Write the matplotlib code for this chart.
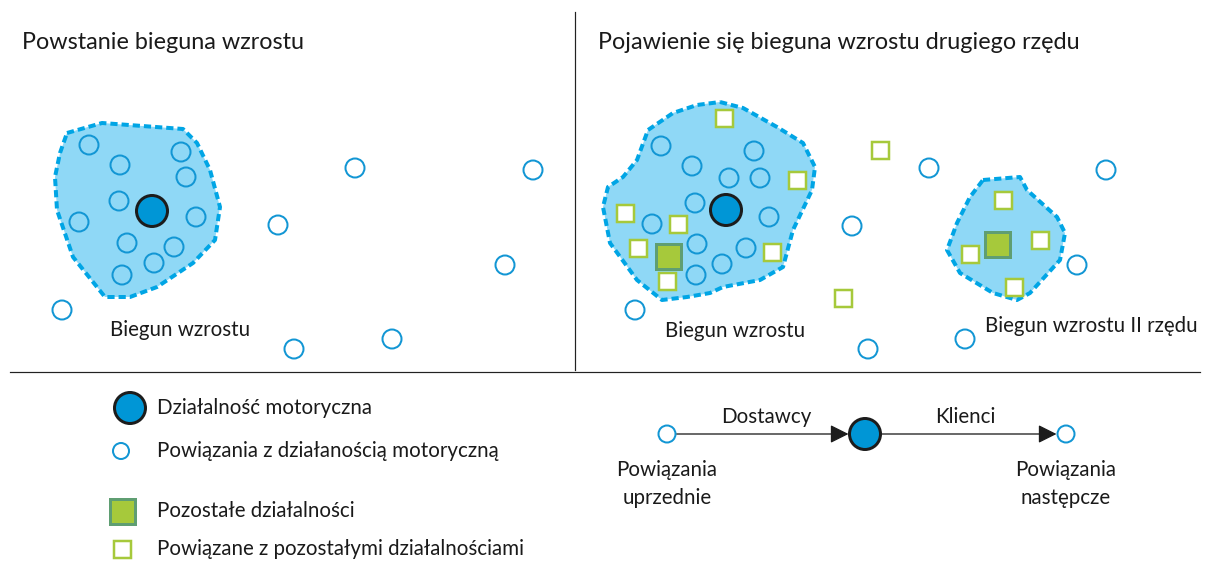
import matplotlib
matplotlib.use("Agg")
import matplotlib.pyplot as plt
from matplotlib.patches import Circle, Rectangle, Polygon, FancyArrowPatch

plt.rcParams['font.family'] = ['Lato', 'DejaVu Sans']

# ---- data (pixel-space diagram positions) ----
titles = ["Powstanie bieguna wzrostu", "Pojawienie się bieguna wzrostu drugiego rzędu"]
title_pos = [(22, 42), (598, 42)]

blob1 = [(67,133),(102,123),(183,129),(197,143),(210,170),(220,207),(215,240),(193,263),
         (157,287),(130,297),(105,297),(73,257),(57,210),(55,177),(60,153)]
blob2 = [(720,102),(743,108),(777,127),(803,143),(815,167),(812,190),(793,230),(783,267),
         (760,280),(723,287),(710,293),(687,297),(662,300),(637,280),(610,243),(603,207),
         (608,187),(623,177),(637,160),(648,130),(673,113),(697,105)]
blob3 = [(983,180),(1020,177),(1027,190),(1057,217),(1065,233),(1060,260),(1030,293),
         (1017,300),(993,293),(960,273),(947,250),(957,223),(970,197)]

motor_main = [(152,211),(726,210)]
linked_circles = [(89,145),(120,165),(181,152),(186,177),(119,201),(79,222),(196,217),
                  (127,243),(174,247),(154,263),(122,275),
                  (355,168),(533,170),(278,225),(505,265),(62,310),(294,349),(392,339),
                  (661,146),(692,166),(754,151),(729,178),(760,178),(652,224),(695,203),
                  (769,217),(697,244),(746,248),(722,264),(696,275),
                  (929,168),(1106,170),(852,226),(1077,265),(635,310),(868,349),(965,339)]
other_main = [(668,256),(997,244)]
other_linked = [(724,118),(797,180),(625,213),(678,224),(638,248),(772,252),(667,281),
                (880,150),(843,298),(1003,200),(1040,240),(970,254),(1014,287)]

blob_labels = ["Biegun wzrostu", "Biegun wzrostu", "Biegun wzrostu II rzędu"]
blob_label_pos = [(180,330),(735,331),(1091,326)]

legend_labels = ["Działalność motoryczna", "Powiązania z działanością motoryczną",
                 "Pozostałe działalności", "Powiązane z pozostałymi działalnościami"]
legend_y = [408, 451, 511, 549]

flow_nodes = [(667,434),(865,434),(1066,434)]
flow_edge_labels = ["Dostawcy", "Klienci"]
flow_node_labels = ["Powiązania\nuprzednie", "Powiązania\nnastępcze"]

# ---- styles ----
BLUE = "#1296d4"
FILL_BLUE = "#0096d6"
BLOB_FILL = "#8fd8f6"
BLOB_EDGE = "#00a5e5"
LIME = "#a6c93b"
TEAL = "#5f9e72"
TXT = "#1a1a1a"
PX = 0.72
FS = 14.8
FS_T = 16.8

fig = plt.figure(figsize=(12.05, 5.61), dpi=100)
ax = fig.add_axes([0, 0, 1, 1])
ax.set_xlim(0, 1205)
ax.set_ylim(561, 0)
ax.set_aspect('equal')
ax.axis('off')

def small_circle(x, y, r=9.5):
    ax.add_patch(Circle((x, y), r, facecolor='none', edgecolor=BLUE, lw=2*PX, zorder=4))

def big_circle(x, y, r=15.5):
    ax.add_patch(Circle((x, y), r, facecolor=FILL_BLUE, edgecolor='#1c1c1c', lw=3*PX, zorder=5))

def open_square(x, y, s=17):
    ax.add_patch(Rectangle((x - s/2, y - s/2), s, s, facecolor='white', edgecolor=LIME, lw=2.5*PX, zorder=4))

def filled_square(x, y, s=25):
    ax.add_patch(Rectangle((x - s/2, y - s/2), s, s, facecolor=LIME, edgecolor=TEAL, lw=3*PX, zorder=5))

for b in (blob1, blob2, blob3):
    ax.add_patch(Polygon(b, closed=True, facecolor=BLOB_FILL, edgecolor=BLOB_EDGE,
                         lw=4*PX, linestyle=(0, (1.8, 1.0)), joinstyle='round', zorder=2))

for (x, y) in linked_circles:
    small_circle(x, y)
for (x, y) in motor_main:
    big_circle(x, y)
for (x, y) in other_linked:
    open_square(x, y)
for (x, y) in other_main:
    filled_square(x, y)

# dividers
ax.plot([575, 575], [12, 370], color='#222222', lw=1.2*PX)
ax.plot([10, 1200], [372, 372], color='#222222', lw=1.2*PX)

for t, (x, y) in zip(titles, title_pos):
    ax.text(x, y, t, fontsize=FS_T, color=TXT, ha='left', va='center')

for t, (x, y) in zip(blob_labels, blob_label_pos):
    ax.text(x, y, t, fontsize=FS, color=TXT, ha='center', va='center')

# legend
big_circle(130, legend_y[0])
small_circle(121, legend_y[1], r=8)
filled_square(122, legend_y[2], s=25)
open_square(122, legend_y[3], s=17)
for t, y in zip(legend_labels, legend_y):
    ax.text(157, y, t, fontsize=FS, color=TXT, ha='left', va='center')

# flow diagram
small_circle(*flow_nodes[0], r=8.5)
big_circle(*flow_nodes[1], r=15.5)
small_circle(*flow_nodes[2], r=8.5)
for (a, b), lab in zip([(flow_nodes[0], flow_nodes[1]), (flow_nodes[1], flow_nodes[2])], flow_edge_labels):
    r_start = 9.5 if a == flow_nodes[0] else 16.5
    r_end = 16.5 if b == flow_nodes[1] else 9.5
    ax.add_patch(FancyArrowPatch((a[0] + r_start, a[1]), (b[0] - r_end, b[1]),
                                 arrowstyle='-|>,head_length=7,head_width=3.5',
                                 mutation_scale=1.6, color='#1c1c1c', lw=1.3*PX,
                                 shrinkA=0, shrinkB=0, zorder=3))
    ax.text((a[0] + b[0]) / 2, a[1] - 17, lab, fontsize=FS, color=TXT, ha='center', va='center')
for t, (x, y) in zip(flow_node_labels, [flow_nodes[0], flow_nodes[2]]):
    ax.text(x, y + 50, t, fontsize=FS, color=TXT, ha='center', va='center', linespacing=1.55)

fig.savefig("out.png", dpi=100)
